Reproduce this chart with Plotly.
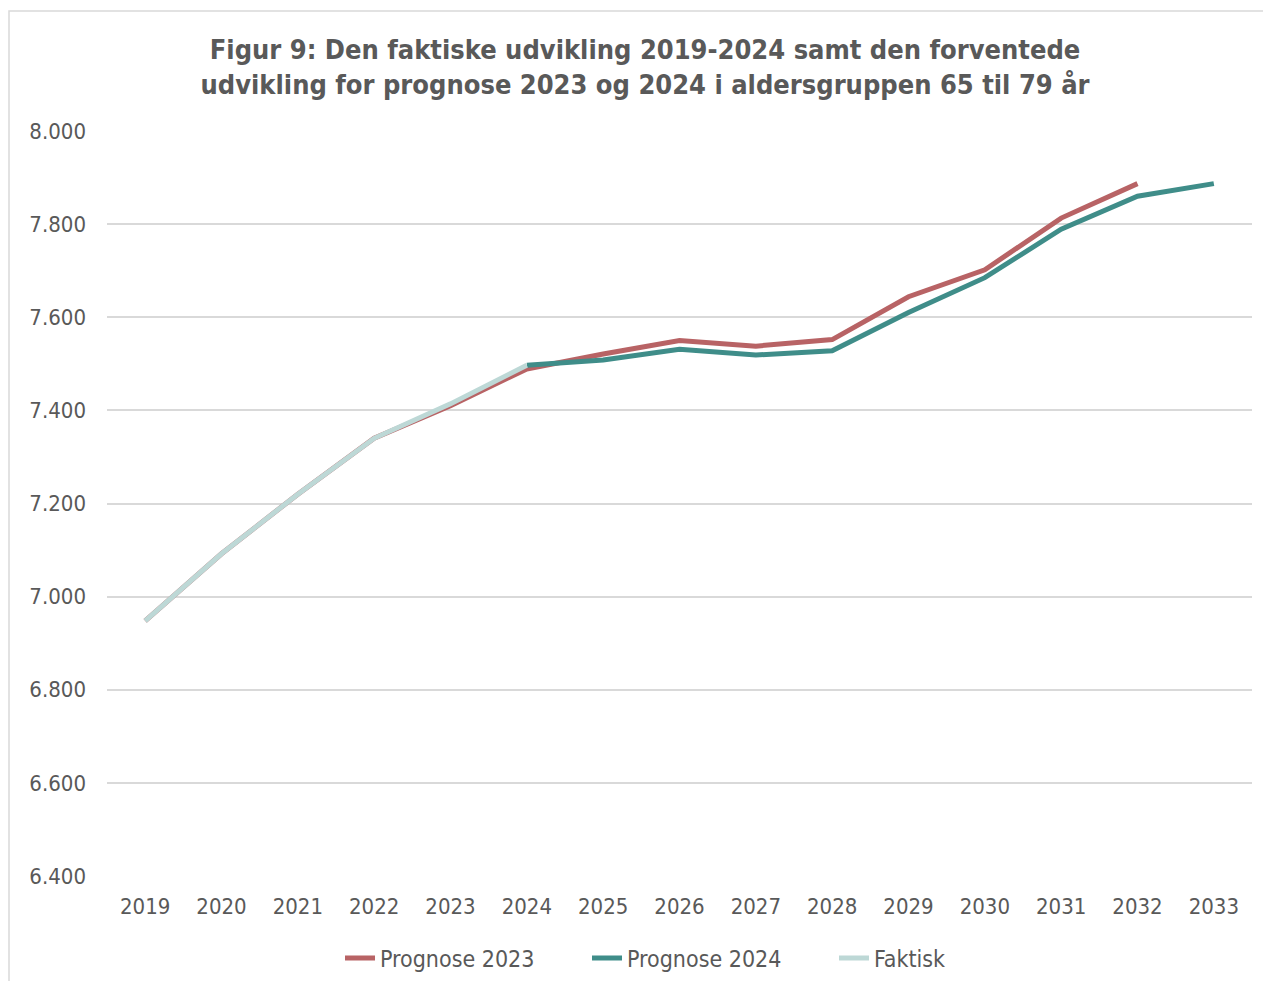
import plotly.graph_objects as go

years = [str(y) for y in range(2019, 2034)]
prognose_2023 = [6948, 7092, 7220, 7340, 7410, 7489, 7521, 7550, 7538, 7552, 7644, 7702, 7813, 7887, None]
prognose_2024 = [None, None, None, None, None, 7497, 7508, 7531, 7519, 7528, 7610, 7685, 7789, 7860, 7887]
faktisk = [6948, 7092, 7220, 7340, 7414, 7497, None, None, None, None, None, None, None, None, None]

series_names = ["Prognose 2023", "Prognose 2024", "Faktisk"]
series_colors = ["#B86365", "#3F8D89", "#BDD8D6"]
series_values = [prognose_2023, prognose_2024, faktisk]

FONT = "DejaVu Sans Condensed, DejaVu Sans, sans-serif"
TXT = "#595959"

# page has an 8px body margin; keep the figure inside the window (no scrollbars)
W, H = 1255, 973
L, R, T, B = 99, 11, 123, 105
PW = W - L - R
PH = H - T - B

fig = go.Figure()
for name, color, vals in zip(series_names, series_colors, series_values):
    fig.add_trace(go.Scatter(x=years, y=vals, mode="lines", name=name,
                             line=dict(color=color, width=5), connectgaps=False))

fig.update_layout(
    width=W, height=H,
    margin=dict(l=L, r=R, t=T, b=B, autoexpand=False),
    paper_bgcolor="white", plot_bgcolor="white",
    title=dict(text="<b>Figur 9: Den faktiske udvikling 2019-2024 samt den forventede<br>udvikling for prognose 2023 og 2024 i aldersgruppen 65 til 79 år</b>",
               x=0.5076, xanchor="center", y=0.948, yanchor="middle",
               font=dict(family=FONT, size=27, color=TXT)),
    font=dict(family=FONT, size=22, color=TXT),
    legend=dict(orientation="h", x=0.2035, xanchor="left", y=-0.11, yanchor="middle",
                font=dict(family=FONT, size=23, color=TXT),
                entrywidth=202, entrywidthmode="pixels",
                traceorder="normal"),
    separators=",.",
    showlegend=True,
)
fig.update_xaxes(type="category", range=[-0.5, len(years) - 0.5],
                 showgrid=False, showline=False, zeroline=False, automargin=False,
                 ticks="", ticklabelstandoff=15,
                 tickfont=dict(family=FONT, size=22, color=TXT))
fig.update_yaxes(range=[6400, 8000], dtick=200, tickformat=",.0f", automargin=False,
                 showgrid=True, gridcolor="#D9D9D9", gridwidth=1.5,
                 zeroline=False, showline=False, ticks="", ticklabelstandoff=20,
                 tickfont=dict(family=FONT, size=22, color=TXT))

# outer chart border (right and bottom edges fall outside the visible frame)
fig.add_shape(type="rect", xref="paper", yref="paper",
              x0=(1 - L) / PW, x1=(1300 - L) / PW,
              y0=-(1010 - (T + PH)) / PH, y1=1 + (T - 3) / PH,
              line=dict(color="#D9D9D9", width=1.5), layer="below")

fig.write_html("out.html")
